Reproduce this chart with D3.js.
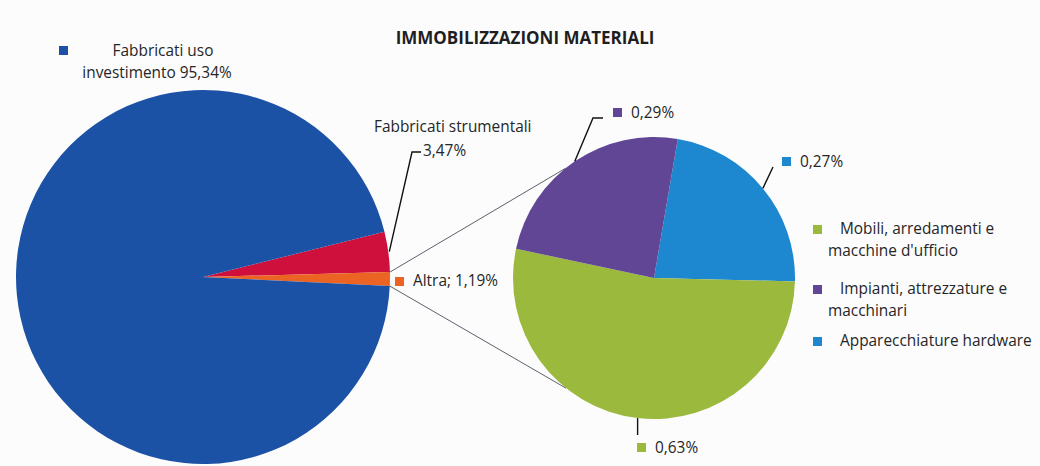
<!DOCTYPE html>
<html>
<head>
<meta charset="utf-8">
<script src="https://cdn.jsdelivr.net/npm/d3@7"></script>
<style>
  body { margin: 0; background: #fcfcfd; }
  svg { display: block; }
  text { font-family: "Open Sans", Lato, sans-serif; fill: #262626; }
  .title { font-weight: bold; font-size: 17px; fill: #1e1e1e; }
  .label { font-size: 15.4px; }
</style>
</head>
<body>
<svg id="chart"></svg>
<script>

// main pie data (clockwise from the red slice)
var mainNames = ["Fabbricati strumentali", "Altra", "Fabbricati uso investimento"]
var mainValues = [3.47, 1.19, 95.34]
var mainColors = ["#d0103c", "#ec6424", "#1c52a6"]

// breakdown of "Altra" (legend order)
var subNames = ["Mobili, arredamenti e macchine d'ufficio", "Impianti, attrezzature e macchinari", "Apparecchiature hardware"]
var subValues = [0.63, 0.29, 0.27]
var subColors = ["#9bb93c", "#604695", "#1d87d0"]
var subLabels = ["0,63%", "0,29%", "0,27%"]
// order the slices are drawn in, clockwise from the top
var subDrawOrder = [2, 0, 1]

var screen = {width: 1040, height: 466}
var big = {cx: 203, cy: 277, r: 187, start: 76}
var small = {cx: 654, cy: 278, r: 141, start: 9.7}

var rad = function(deg) { return deg * Math.PI / 180 }

var svg = d3.select("#chart")
    .attr("width", screen.width)
    .attr("height", screen.height)

var pointAt = function(pie, angle, r)
{
    return [pie.cx + r * Math.sin(angle), pie.cy - r * Math.cos(angle)]
}

var drawMainPie = function()
{
    var items = mainNames.map(function(n, i) { return {name: n, value: mainValues[i], color: mainColors[i]} })
    var pie = d3.pie()
        .sort(null)
        .value(function(d) { return d.value })
        .startAngle(rad(big.start))
        .endAngle(rad(big.start) + 2 * Math.PI)
    var arc = d3.arc().innerRadius(0).outerRadius(big.r)
    var arcs = pie(items)

    svg.append("g")
        .attr("transform", "translate(" + big.cx + "," + big.cy + ")")
        .selectAll("path")
        .data(arcs)
        .enter()
        .append("path")
        .attr("d", arc)
        .attr("fill", function(d) { return d.data.color })
    return arcs
}

var drawSubPie = function()
{
    var items = subDrawOrder.map(function(i)
    {
        return {name: subNames[i], value: subValues[i], color: subColors[i], label: subLabels[i]}
    })
    var pie = d3.pie()
        .sort(null)
        .value(function(d) { return d.value })
        .startAngle(rad(small.start))
        .endAngle(rad(small.start) + 2 * Math.PI)
    var arc = d3.arc().innerRadius(0).outerRadius(small.r)
    var arcs = pie(items)

    svg.append("g")
        .attr("transform", "translate(" + small.cx + "," + small.cy + ")")
        .selectAll("path")
        .data(arcs)
        .enter()
        .append("path")
        .attr("d", arc)
        .attr("fill", function(d) { return d.data.color })
    return arcs
}

var mainArcs = drawMainPie()
var subArcs = drawSubPie()

// connector lines from "Altra" to the second pie
var altra = mainArcs[1]
var connectors = [
    [pointAt(big, altra.startAngle, big.r), pointAt(small, rad(321), small.r)],
    [pointAt(big, altra.endAngle, big.r), pointAt(small, rad(218.6), small.r)]
]
svg.append("g")
    .selectAll("line")
    .data(connectors)
    .enter()
    .append("line")
    .attr("x1", function(d) { return d[0][0] })
    .attr("y1", function(d) { return d[0][1] })
    .attr("x2", function(d) { return d[1][0] })
    .attr("y2", function(d) { return d[1][1] })
    .attr("stroke", "#4a4f5a")
    .attr("stroke-width", 0.9)

var labels = svg.append("g")

//title
labels.append("text")
    .text("IMMOBILIZZAZIONI MATERIALI")
    .classed("title", true)
    .attr("text-anchor", "middle")
    .attr("x", 525)
    .attr("y", 44)

var marker = function(x, y, color)
{
    labels.append("rect")
        .attr("x", x).attr("y", y)
        .attr("width", 9).attr("height", 9)
        .attr("fill", color)
}

var leader = function(pts)
{
    labels.append("path")
        .attr("d", d3.line()(pts))
        .attr("fill", "none")
        .attr("stroke", "#111")
        .attr("stroke-width", 1.4)
}

// big blue slice
marker(59, 46, mainColors[2])
labels.append("text").classed("label", true)
    .attr("x", 163).attr("y", 56).attr("text-anchor", "middle")
    .text("Fabbricati uso")
labels.append("text").classed("label", true)
    .attr("x", 157).attr("y", 78).attr("text-anchor", "middle")
    .text("investimento 95,34%")

// red slice
var redMid = (mainArcs[0].startAngle + mainArcs[0].endAngle) / 2
var redPt = pointAt(big, redMid, big.r + 1)
leader([redPt, [412, 152], [421, 152]])
labels.append("text").classed("label", true)
    .attr("x", 374).attr("y", 132)
    .text("Fabbricati strumentali")
labels.append("text").classed("label", true)
    .attr("x", 423).attr("y", 156)
    .text("3,47%")

// orange slice
marker(395, 277, mainColors[1])
labels.append("text").classed("label", true)
    .attr("x", 413).attr("y", 286)
    .text("Altra; 1,19%")

// small pie value labels
var subLabelPos = {
    "0,27%": {elbow: [773, 167], marker: [782, 157]},
    "0,63%": {elbow: null, marker: [637, 443]},
    "0,29%": {elbow: [593, 118], end: [603, 118], marker: [613, 108]}
}
subArcs.forEach(function(a)
{
    var mid = (a.startAngle + a.endAngle) / 2
    var p = pointAt(small, mid, small.r)
    var pos = subLabelPos[a.data.label]
    if (pos.elbow && pos.end)
    {
        leader([p, pos.elbow, pos.end])
    }
    else if (pos.elbow)
    {
        leader([p, pos.elbow])
    }
    else
    {
        leader([p, [p[0], 435]])
    }
    marker(pos.marker[0], pos.marker[1], a.data.color)
    labels.append("text").classed("label", true)
        .attr("x", pos.marker[0] + 18)
        .attr("y", pos.marker[1] + 10)
        .text(a.data.label)
})

// legend
var legendLines = [
    ["Mobili, arredamenti e", "macchine d'ufficio"],
    ["Impianti, attrezzature e", "macchinari"],
    ["Apparecchiature hardware"]
]
var legendY = [225, 285, 337]
subNames.forEach(function(n, i)
{
    marker(813, legendY[i], subColors[i])
    legendLines[i].forEach(function(line, j)
    {
        labels.append("text").classed("label", true)
            .attr("x", j == 0 ? 840 : 828)
            .attr("y", legendY[i] + 9 + j * 22)
            .text(line)
    })
})

</script>
</body>
</html>
